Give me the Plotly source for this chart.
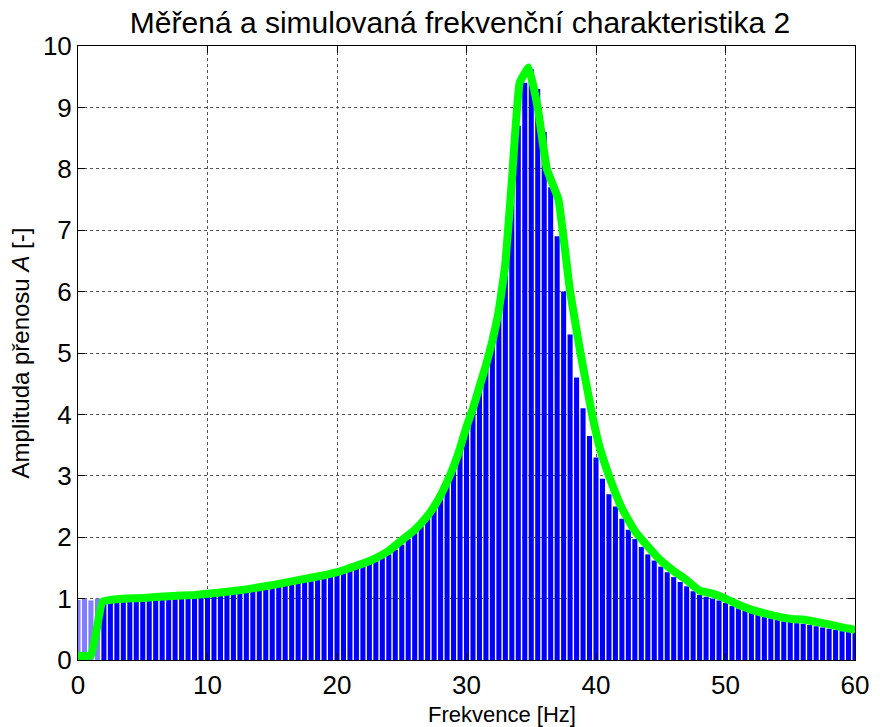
import plotly.graph_objects as go

# Measured amplitude (blue), sampled every 0.5 Hz from 0 to 60 Hz
measured_amp = [
    0.98, 1.00, 0.97, 1.00, 0.96, 0.95, 0.97, 0.96, 0.98, 0.97,   # 0.0 - 4.5
    0.98, 0.99, 0.98, 1.00, 1.01, 1.00, 1.02, 1.03, 1.03, 1.02,   # 5.0 - 9.5
    1.04, 1.05, 1.06, 1.07, 1.08, 1.10, 1.11, 1.12, 1.14, 1.15,   # 10.0 - 14.5
    1.17, 1.19, 1.21, 1.23, 1.25, 1.27, 1.29, 1.31, 1.34, 1.36,   # 15.0 - 19.5
    1.39, 1.42, 1.45, 1.49, 1.53, 1.57, 1.61, 1.66, 1.72, 1.80,   # 20.0 - 24.5
    1.88, 1.97, 2.07, 2.18, 2.30, 2.48, 2.70, 2.95, 3.22, 3.50,   # 25.0 - 29.5
    3.82, 4.15, 4.50, 4.88, 5.30, 5.80, 6.50, 7.60, 8.70, 9.40,   # 30.0 - 34.5
    9.62, 9.30, 8.60, 7.70, 6.90, 6.00, 5.30, 4.60, 4.10, 3.65,   # 35.0 - 39.5
    3.30, 2.95, 2.70, 2.50, 2.30, 2.12, 1.97, 1.84, 1.72, 1.62,   # 40.0 - 44.5
    1.52, 1.43, 1.35, 1.27, 1.20, 1.12, 1.06, 1.03, 1.00, 0.97,   # 45.0 - 49.5
    0.93, 0.88, 0.84, 0.80, 0.77, 0.74, 0.71, 0.68, 0.65, 0.63,   # 50.0 - 54.5
    0.62, 0.60, 0.59, 0.57, 0.55, 0.53, 0.51, 0.49, 0.47, 0.46,   # 55.0 - 59.5
    0.45,                                                          # 60.0
]
measured_freq = [i * 0.5 for i in range(len(measured_amp))]

# Simulated characteristic (green)
sim_freq = [0, 1.0, 1.9, 3, 5, 7, 9, 11, 13, 15, 17, 19, 20, 21, 22, 23, 24, 25,
            26, 27, 27.5, 28, 28.5, 29, 29.5, 30, 30.5, 31, 31.5, 32, 32.5, 33,
            33.5, 34.1, 34.8, 35.5, 36.2, 37.1, 38, 38.8, 39.7, 40.3, 41, 41.5,
            42, 43, 44, 45, 46, 47, 48, 49, 50, 51, 52, 53, 54, 55, 56, 57, 58,
            59, 60]
sim_amp = [0.07, 0.07, 0.95, 0.99, 1.01, 1.04, 1.06, 1.10, 1.15, 1.22, 1.30, 1.38,
           1.43, 1.50, 1.57, 1.66, 1.78, 1.95, 2.12, 2.35, 2.50, 2.68, 2.90, 3.15,
           3.45, 3.80, 4.10, 4.45, 4.80, 5.20, 5.70, 6.45, 7.80, 9.40, 9.65, 9.00,
           8.00, 7.50, 6.00, 5.00, 4.00, 3.45, 3.00, 2.72, 2.47, 2.10, 1.85, 1.62,
           1.45, 1.30, 1.13, 1.08, 1.00, 0.90, 0.82, 0.76, 0.71, 0.67, 0.66, 0.62,
           0.58, 0.53, 0.49]

x_ticks = [0, 10, 20, 30, 40, 50, 60]
y_ticks = [0, 1, 2, 3, 4, 5, 6, 7, 8, 9, 10]

FONT = "Liberation Sans, Arial, Helvetica, sans-serif"

bar_colors = ["#7f7fff" if f < 2 else "#0000FF" for f in measured_freq]

fig = go.Figure()
fig.add_trace(go.Bar(
    x=measured_freq, y=measured_amp,
    marker=dict(color=bar_colors, line=dict(width=0)),
    showlegend=False,
))
fig.add_trace(go.Scatter(
    x=sim_freq, y=sim_amp, mode="lines",
    line=dict(color="#00FF00", width=8, shape="spline", smoothing=0.3),
    showlegend=False,
))

axis_common = dict(
    showline=True, linecolor="black", linewidth=1, mirror="ticks",
    ticks="inside", ticklen=7, tickcolor="black",
    showgrid=True, gridcolor="#555555", griddash="dot", gridwidth=1,
    zeroline=False,
    tickfont=dict(family=FONT, size=26, color="black"),
)

fig.update_layout(
    width=880, height=727,
    margin=dict(l=78, r=25, t=46, b=67),
    paper_bgcolor="white", plot_bgcolor="white",
    bargap=0.22,
    title=dict(
        text="Měřená a simulovaná frekvenční charakteristika 2",
        font=dict(family=FONT, size=30, color="black"),
        x=460 / 880, xanchor="center", y=0.969, yanchor="middle",
        xref="container",
    ),
    xaxis=dict(
        range=[0, 60], tickvals=x_ticks, ticklabelstandoff=2,
        **axis_common,
    ),
    yaxis=dict(
        range=[0, 10], tickvals=y_ticks,
        title=dict(text="Amplituda přenosu <i>A</i> [-]",
                   font=dict(family=FONT, size=24, color="black"), standoff=6),
        **axis_common,
    ),
    annotations=[dict(
        text="Frekvence [Hz]", xref="paper", yref="paper",
        x=(502 - 78) / 777, y=-(714 - 660) / 614,
        xanchor="center", yanchor="middle", showarrow=False,
        font=dict(family=FONT, size=22, color="black"),
    )],
)

fig.write_html("out.html")
